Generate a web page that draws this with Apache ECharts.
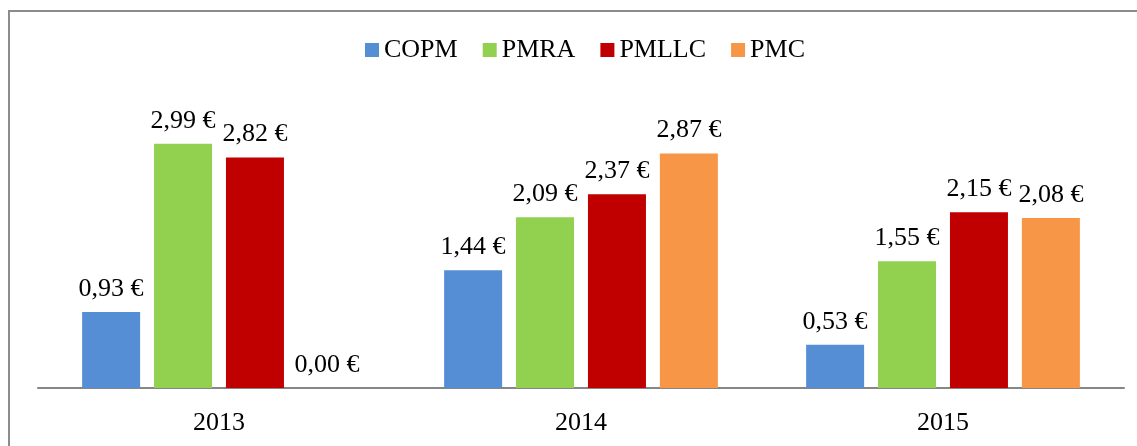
<!DOCTYPE html>
<html>
<head>
<meta charset="utf-8">
<script src="https://cdn.jsdelivr.net/npm/echarts@6/dist/echarts.min.js"></script>
<style>
  html, body { margin: 0; padding: 0; background: #fff; }
  #chart { width: 1137px; height: 446px; }
</style>
</head>
<body>
<div id="chart"></div>
<script>
var years = ['2013', '2014', '2015'];
var copm = [0.93, 1.44, 0.53];
var pmra = [2.99, 2.09, 1.55];
var pmllc = [2.82, 2.37, 2.15];
var pmc = [0.00, 2.87, 2.08];

var seriesNames = ['COPM', 'PMRA', 'PMLLC', 'PMC'];
var seriesData = [copm, pmra, pmllc, pmc];
var colors = ['#558ED5', '#92D050', '#C00000', '#F79646'];

var font = '"Liberation Serif", "Times New Roman", serif';

function euro(p) {
  return p.value.toFixed(2).replace('.', ',') + ' €';
}

var chart = echarts.init(document.getElementById('chart'));

var series = seriesNames.map(function (name, i) {
  return {
    name: name,
    type: 'bar',
    data: seriesData[i],
    barWidth: 58,
    barGap: '24%',
    itemStyle: { color: colors[i] },
    label: {
      show: true,
      position: 'top',
      distance: 10,
      formatter: euro,
      color: '#000',
      fontFamily: font,
      fontSize: 26
    }
  };
});

chart.setOption({
  animation: false,
  color: colors,
  graphic: [{
    type: 'rect',
    shape: { x: 9, y: 11, width: 1200, height: 500 },
    style: { fill: 'none', stroke: '#8c8c8c', lineWidth: 2 }
  }],
  legend: {
    data: seriesNames,
    left: 360,
    top: 32,
    itemWidth: 14,
    itemHeight: 14,
    itemGap: 25,
    icon: 'rect',
    textStyle: { fontFamily: font, fontSize: 26, color: '#000' }
  },
  grid: { left: 38, right: 13, top: 102, bottom: 58 },
  xAxis: {
    type: 'category',
    data: years,
    axisLine: { lineStyle: { color: '#868686', width: 2 } },
    axisTick: { show: false },
    axisLabel: { fontFamily: font, fontSize: 26, color: '#000', margin: 22 }
  },
  yAxis: {
    type: 'value',
    min: 0,
    max: 3.5,
    show: false,
    splitLine: { show: false }
  },
  series: series
});
</script>
</body>
</html>
